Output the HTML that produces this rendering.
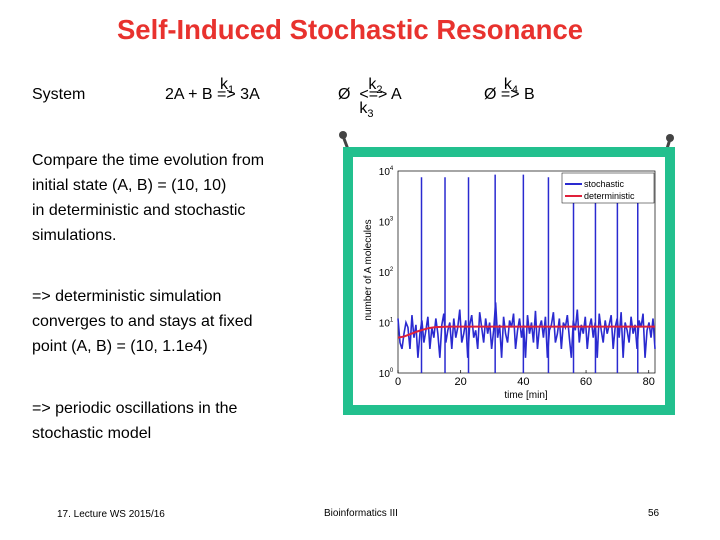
<!DOCTYPE html>
<html><head><meta charset="utf-8"><style>
body{margin:0;width:720px;height:540px;background:#fff;position:relative;overflow:hidden;font-family:"Liberation Sans",sans-serif;}
.t{position:absolute;white-space:nowrap;color:#000;}
</style></head><body>
<div class="t" style="left:0;width:700px;text-align:center;top:14px;font-size:27.5px;font-weight:bold;color:#e8322e;">Self-Induced Stochastic Resonance</div>
<div class="t" style="left:32px;top:86px;font-size:16px;">System</div>
<div class="t" style="left:165px;top:86px;font-size:16px;">2A + B <span style="position:relative">=&gt;<span style="position:absolute;left:3px;top:-10px">k<sub style="font-size:11px">1</sub></span></span> 3A</div>
<div class="t" style="left:338px;top:86px;font-size:16px;">Ø &nbsp;<span style="position:relative">&lt;=&gt;<span style="position:absolute;left:9px;top:-10px">k<sub style="font-size:11px">2</sub></span><span style="position:absolute;left:0px;top:14px">k<sub style="font-size:11px">3</sub></span></span> A</div>
<div class="t" style="left:484px;top:86px;font-size:16px;">Ø <span style="position:relative">=&gt;<span style="position:absolute;left:3px;top:-10px">k<sub style="font-size:11px">4</sub></span></span> B</div>
<div class="t" style="left:32px;top:148px;font-size:16px;line-height:25px;">Compare the time evolution from<br>initial state (A, B) = (10, 10)<br>in deterministic and stochastic<br>simulations.</div>
<div class="t" style="left:32px;top:284px;font-size:16px;line-height:25px;">=&gt; deterministic simulation<br>converges to and stays at fixed<br>point (A, B) = (10, 1.1e4)</div>
<div class="t" style="left:32px;top:396px;font-size:16px;line-height:25px;">=&gt; periodic oscillations in the<br>stochastic model</div>
<div class="t" style="left:57px;top:509px;font-size:10px;">17. Lecture WS 2015/16</div>
<div class="t" style="left:324px;top:508px;font-size:10px;">Bioinformatics III</div>
<div class="t" style="left:648px;top:508px;font-size:10px;">56</div>

<svg width="720" height="540" style="position:absolute;left:0;top:0" id="svg">
<line x1="343" y1="136" x2="349" y2="152" stroke="#444" stroke-width="3"/>
<line x1="670" y1="139" x2="666" y2="152" stroke="#444" stroke-width="3"/>
<circle cx="343" cy="135" r="4" fill="#444"/>
<circle cx="670" cy="138" r="4" fill="#444"/>
<rect x="348" y="152" width="322" height="258" fill="#fff" stroke="#22c08e" stroke-width="10"/>
<rect x="398" y="171" width="257" height="202" fill="none" stroke="#000" stroke-width="0.7"/>
<g id="g"></g>
<text x="371" y="270" font-size="10" transform="rotate(-90 371 270)" font-family="Liberation Sans" text-anchor="middle">number of A molecules</text>
<text x="526" y="398" font-size="10" font-family="Liberation Sans" text-anchor="middle">time [min]</text>
</svg>
<script>
const xTicks=[0,20,40,60,80];
const yTicks=[0,1,2,3,4];
const spikeTimes=[7.5,15,22.5,31,40,48,56,63,70,76.5];
const spikeValues=[7500,7500,7500,8500,8500,7500,7000,7000,7000,6500];
const noise=[12,4,3,6,10,8,3,14,5,9,2,6,11,4,7,13,3,8,5,12,6,2,9,15,4,7,10,3,12,5,8,18,4,6,11,2,9,14,5,7,3,16,8,4,12,6,10,3,7,25,5,9,2,13,6,4,11,8,15,3,7,12,5,9,2,14,6,10,4,17,3,8,11,5,13,2,7,9,16,4,6,12,3,10,8,14,5,2,11,7,18,4,9,6,13,3,8,12,5,10,2,15,7,4,11,6,9,14,3,8,12,5,16,2,10,7,4,13,6,9,3,11,8,15,2,7,10,5,12,3];
const detTimes=[0,2,4,6,8,10,12,16,20,40,60,82];
const detValues=[5,5.3,5.9,6.6,7.2,7.8,8.1,8.3,8.3,8.3,8.3,8.3];
const X=t=>398+t/82*257;
const Y=v=>373-Math.log10(v)/4*202;
const g=document.getElementById('g');const NS='http://www.w3.org/2000/svg';
function mk(tag,a){const e=document.createElementNS(NS,tag);for(const k in a)e.setAttribute(k,a[k]);g.appendChild(e);return e;}
xTicks.forEach(t=>{const l=mk('line',{x1:X(t),x2:X(t),y1:373,y2:370,stroke:'#000','stroke-width':0.7});


const tx=mk('text',{x:X(t),y:385,'font-size':11,'text-anchor':'middle','font-family':'Liberation Sans'});tx.textContent=t;

});
yTicks.forEach(p=>{const y=Y(Math.pow(10,p));
const tx=mk('text',{x:386,y:y+4,'font-size':10,'text-anchor':'middle','font-family':'Liberation Sans'});tx.innerHTML='10<tspan dy="-5" font-size="6">'+p+'</tspan>';

});
let pts=[];const n=noise.length;
noise.forEach((v,i)=>{pts.push(X(i*82/(n-1))+','+Math.min(Y(v),373));});
const pl=mk('polyline',{points:pts.join(' '),fill:'none',stroke:'#2a2ad0','stroke-width':1.6});


spikeTimes.forEach((t,i)=>{const l=mk('line',{x1:X(t),x2:X(t),y1:Y(spikeValues[i]),y2:373,stroke:'#2a2ad0','stroke-width':1.5});

});
const dp=detTimes.map((t,i)=>X(t)+','+Y(detValues[i])).join(' ');
const dl=mk('polyline',{points:dp,fill:'none',stroke:'#e0203a','stroke-width':2});


const lg=mk('rect',{x:562,y:173,width:92,height:30,fill:'#fff',stroke:'#000','stroke-width':0.5});


[['stochastic','#2a2ad0',184],['deterministic','#e0203a',196]].forEach(([s,c,y])=>{
const l=mk('line',{x1:565,x2:582,y1:y,y2:y,stroke:c,'stroke-width':2});


const tx=mk('text',{x:584,y:y+3,'font-size':9,'font-family':'Liberation Sans'});tx.textContent=s;

});
</script>
</body></html>
